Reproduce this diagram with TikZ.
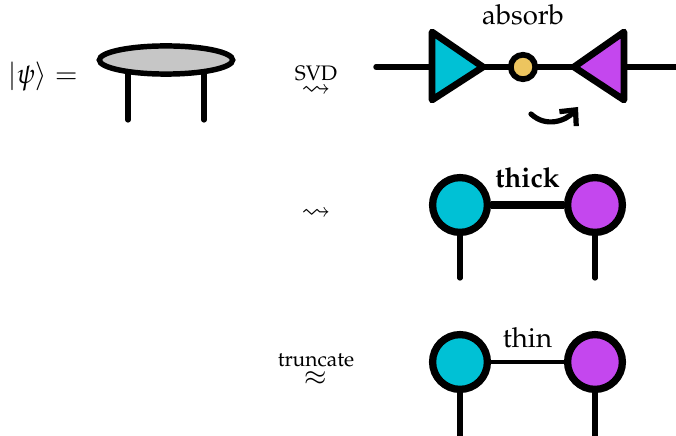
\documentclass[tikz,border=0pt]{standalone}
\usepackage[T1]{fontenc}
\usepackage{mathpazo}
\usepackage{amsmath,amssymb}
\usetikzlibrary{arrows.meta, positioning, shapes.geometric, calc, backgrounds}
\definecolor{Lagoon}{HTML}{00C1D5}
\definecolor{Orchid}{HTML}{C447EE}
\definecolor{Saffron}{HTML}{EDC55F}
\definecolor{Pebble}{HTML}{C6C6C6}

\begin{document}
\begin{tikzpicture}[
    x=0.0135cm, y=-0.0135cm,
    every node/.style={font=\fontsize{10.6}{13}\selectfont},
    site/.style={circle, draw=black, line width=2.8pt,
                  minimum size=0.74cm, inner sep=0pt},
    blob/.style={ellipse, draw=black, fill=Pebble, line width=2.1pt,
                  minimum width=1.8cm, minimum height=0.38cm, inner sep=0pt},
    tri/.style={draw=black, line width=2.6pt, line join=round},
    leg/.style={line width=2pt, line cap=round},
    wire/.style={line width=2.1pt, line cap=round},
    arr/.style={-{Straight Barb[length=1.6mm, width=3mm]}, line width=2pt, line cap=round}
  ]
    \useasboundingbox (0,0) rectangle (676,436);

    % state
    \node (ket) at (43,77) {$|\psi\rangle =$};
    \node[blob] (mps) at (166,60) {};
    \coordinate (legA) at (128,120);
    \coordinate (legB) at (204,120);
    \begin{scope}[on background layer]
      \draw[leg] (mps.center -| legA) -- (legA);
      \draw[leg] (mps.center -| legB) -- (legB);
    \end{scope}

    % steps
    \node (svd) at (316,80) {$\overset{\text{SVD}}{\rightsquigarrow}$};
    \node (step) at (316,214) {$\rightsquigarrow$};
    \node (trunc) at (316,368) {$\overset{\text{truncate}}{\approx}$};

    % decomposed
    \coordinate (lend) at (376,67);
    \coordinate (rend) at (676,67);
    \draw[wire] (lend) -- (rend);
    \filldraw[tri, fill=Lagoon] (432,32) -- (432,100) -- (483,67) -- cycle;
    \filldraw[tri, fill=Orchid] (624,32) -- (624,100) -- (574,67) -- cycle;
    \node[circle, draw=black, fill=Saffron, line width=2.2pt,
          minimum size=0.33cm, inner sep=0pt] (lam) at (523,67) {};
    \node[above=0.24cm of lam] (abs) {absorb};
    \coordinate (swA) at (531,114);
    \coordinate (swB) at (578,107);
    \draw[arr] (swA) .. controls (546,128) and (566,121) .. (swB);

    % thick bond
    \node[site, fill=Lagoon] (a2) at (460,205) {};
    \node[site, fill=Orchid] (b2) at (595,205) {};
    \draw[line width=3.2pt] (a2) -- (b2)
      node[midway, above=0.06cm, font=\fontsize{10.6}{13}\selectfont\bfseries] {thick};
    \draw[leg] (a2.south) -- ++(0,42);
    \draw[leg] (b2.south) -- ++(0,42);

    % thin bond
    \node[site, fill=Lagoon] (a3) at (460,362) {};
    \node[site, fill=Orchid] (b3) at (595,362) {};
    \draw[line width=1.3pt] (a3) -- (b3)
      node[midway, above=0.06cm] {thin};
    \draw[leg] (a3.south) -- ++(0,50);
    \draw[leg] (b3.south) -- ++(0,50);
  \end{tikzpicture}
\end{document}
